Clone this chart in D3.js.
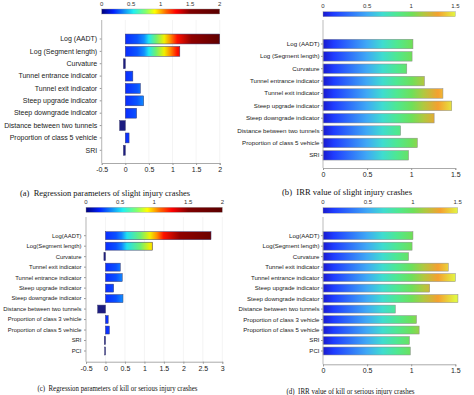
<!DOCTYPE html>
<html>
<head>
<meta charset="utf-8">
<script src="https://cdn.jsdelivr.net/npm/d3@7"></script>
<style>
  body { margin: 0; background: #fff; }
  text { font-family: "Liberation Sans", Arial, sans-serif; }
  .caption { font-family: "Liberation Serif", "Times New Roman", serif; white-space: pre; }
</style>
</head>
<body>
<svg id="chart" width="474" height="395"></svg>
<script>
// Catégories (slight injury crashes)
const catsSlight = ["Log (AADT)", "Log (Segment length)", "Curvature", "Tunnel entrance indicator",
  "Tunnel exit indicator", "Steep upgrade indicator", "Steep downgrade indicator",
  "Distance between two tunnels", "Proportion of class 5 vehicle", "SRI"];
// Catégories (kill or serious injury crashes)
const catsSevere = ["Log(AADT)", "Log(Segment length)", "Curvature", "Tunnel exit indicator",
  "Tunnel entrance indicator", "Steep upgrade indicator", "Steep downgrade indicator",
  "Distance between two tunnels", "Proportion of class 3 vehicle", "Proportion of class 5 vehicle",
  "SRI", "PCI"];

// Valeurs
const regSlight = [2.0, 1.155, -0.04, 0.16, 0.32, 0.39, 0.24, -0.12, 0.08, -0.04];
const irrSlight = [1.02, 1.01, 0.95, 1.15, 1.36, 1.46, 1.26, 0.88, 1.07, 0.97];
const regSevere = [2.71, 1.21, -0.04, 0.38, 0.43, 0.21, 0.45, -0.20, 0.07, 0.10, -0.03, -0.02];
const irrSevere = [1.02, 1.01, 0.97, 1.42, 1.50, 1.21, 1.53, 0.82, 1.06, 1.09, 0.98, 0.99];

// Graduations
const regTicksSlight = [-0.5, 0, 0.5, 1, 1.5, 2];
const regTicksSevere = [-0.5, 0, 0.5, 1, 1.5, 2, 2.5, 3];
const irrTicks = [0, 0.5, 1, 1.5];
const regBarTicks = [0, 0.5, 1, 1.5, 2];
const irrBarTicks = [0, 0.5, 1, 1.5];

const captions = [
  "(a)  Regression parameters of slight injury crashes",
  "(b)  IRR value of slight injury crashes",
  "(c)  Regression parameters of kill or serious injury crashes",
  "(d)  IRR value of kill or serious injury crashes"
];

const svg = d3.select("#chart");
const defs = svg.append("defs");

// Color ramps (jet-like for regression, blue->green->orange->yellow for IRR)
const jetBar = [[0, "#00006e"], [0.1, "#0000c8"], [0.2, "#0a2cff"], [0.3, "#0a55ff"], [0.36, "#1090ff"],
  [0.40, "#20e8f0"], [0.46, "#70f070"], [0.53, "#f0f000"], [0.58, "#ff9000"], [0.64, "#ff1000"],
  [0.76, "#900000"], [1, "#600000"]];
const jetBarSevere = [[0, "#00006e"], [0.08, "#0000c0"], [0.143, "#0a2cff"], [0.22, "#0a50ff"], [0.26, "#1080ff"],
  [0.30, "#20e0f0"], [0.40, "#70f070"], [0.47, "#f0f000"], [0.52, "#ff9000"], [0.57, "#ff1000"],
  [0.69, "#900000"], [1, "#600000"]];
const jetBar2 = [[0, "#00007a"], [0.1, "#0020ff"], [0.27, "#20f0f0"], [0.37, "#80ff70"], [0.45, "#ffff00"],
  [0.55, "#ff6000"], [0.63, "#ff0000"], [0.75, "#800000"], [1, "#5a0000"]];
const irrRamp = [[0, "#1a1acc"], [0.08, "#1f3cff"], [0.33, "#3fa8f5"], [0.45, "#3fdcd0"], [0.56, "#4fe890"],
  [0.67, "#6ee05a"], [0.76, "#b0c840"], [0.87, "#f5a030"], [1, "#e2f542"]];

function addGradient(id, stops, x1, x2) {
  const lg = defs.append("linearGradient").attr("id", id);
  if (x1 !== undefined) {
    lg.attr("gradientUnits", "userSpaceOnUse").attr("x1", x1).attr("x2", x2).attr("y1", 0).attr("y2", 0);
  }
  lg.selectAll("stop").data(stops).enter().append("stop")
    .attr("offset", d => d[0]).attr("stop-color", d => d[1]);
}

function drawPanel(p) {
  const g = svg.append("g");
  const x = d3.scaleLinear().domain(p.domain).range([p.x0, p.x1]);
  const step = (p.lastCenter - p.firstCenter) / (p.cats.length - 1);
  const y = d3.scaleBand().domain(p.cats)
    .range([p.firstCenter - step / 2, p.lastCenter + step / 2])
    .paddingInner(p.pad).paddingOuter(p.pad / 2);

  addGradient(p.id + "bar", p.barStops, p.x0, p.x1);
  addGradient(p.id + "cb", p.cbStops);

  // colorbar
  const cb = d3.scaleLinear().domain([0, p.cbMax]).range([p.x0, p.cbX1]);
  g.append("rect")
    .attr("x", p.x0).attr("y", p.cbY)
    .attr("width", p.cbX1 - p.x0).attr("height", p.cbH)
    .attr("fill", "url(#" + p.id + "cb)")
    .attr("stroke", "#999").attr("stroke-width", 0.4);
  g.selectAll(".cbl").data(p.cbTicks).enter().append("text")
    .attr("x", d => cb(d)).attr("y", p.cbY - 3.5)
    .attr("text-anchor", "middle").attr("font-size", 6).attr("fill", "#333")
    .text(d => d);

  // grid
  if (p.grid) {
    g.selectAll(".grid").data(p.ticks).enter().append("line")
      .attr("x1", d => x(d)).attr("x2", d => x(d))
      .attr("y1", p.axisTop).attr("y2", p.axisY)
      .attr("stroke", "#ececec").attr("stroke-width", 0.6);
  }

  // bars
  const data = p.cats.map((c, i) => ({ cat: c, value: p.values[i] }));
  g.selectAll(".bar").data(data).enter().append("rect")
    .attr("x", d => x(Math.min(0, d.value)))
    .attr("width", d => Math.abs(x(d.value) - x(0)))
    .attr("y", d => y(d.cat))
    .attr("height", y.bandwidth())
    .attr("fill", d => d.value < 0 ? "#1c1c80" : "url(#" + p.id + "bar)")
    .attr("stroke", p.barStroke).attr("stroke-width", 0.5);

  // axes
  const xAxis = g.append("g").attr("transform", "translate(0," + p.axisY + ")")
    .call(d3.axisBottom(x).tickValues(p.ticks).tickSize(2).tickPadding(2).tickFormat(d => String(d)));
  xAxis.select(".domain").attr("stroke", "#aaa");
  xAxis.selectAll(".tick line").attr("stroke", "#999");
  xAxis.selectAll("text").attr("font-size", 7).attr("fill", "#222")
    .attr("font-family", "'Liberation Sans', Arial, sans-serif");

  const yAxis = g.append("g").attr("transform", "translate(" + p.x0 + ",0)")
    .call(d3.axisLeft(y).tickSize(2).tickPadding(p.labelPad));
  yAxis.select(".domain").remove();
  yAxis.selectAll(".tick line").attr("stroke", "#999");
  yAxis.selectAll("text").attr("font-size", p.labelSize).attr("fill", "#222")
    .attr("font-family", "'Liberation Sans', Arial, sans-serif");

  g.append("line")
    .attr("x1", p.x0).attr("x2", p.x0)
    .attr("y1", p.axisTop).attr("y2", p.axisY)
    .attr("stroke", "#aaa").attr("stroke-width", 0.8);

  // caption
  g.append("text").attr("class", "caption")
    .attr("x", p.capX).attr("y", p.capY)
    .attr("text-anchor", "middle").attr("font-size", p.capSize).attr("fill", "#111")
    .attr("textLength", p.capW).attr("lengthAdjust", "spacingAndGlyphs")
    .text(p.caption);
}

drawPanel({ id: "a", cats: catsSlight, values: regSlight, domain: [-0.5, 2], ticks: regTicksSlight,
  x0: 101.7, x1: 219.7, cbX1: 219.7, cbMax: 2, cbTicks: regBarTicks, cbY: 9, cbH: 5,
  axisTop: 20, axisY: 163, firstCenter: 39, lastCenter: 150.3, pad: 0.2, labelSize: 7, labelPad: 2.5,
  barStops: jetBar, cbStops: jetBar2, barStroke: "#3a3a70", grid: true,
  caption: captions[0], capX: 105, capY: 196, capSize: 7.6, capW: 170 });

drawPanel({ id: "b", cats: catsSlight, values: irrSlight, domain: [0, 1.5], ticks: irrTicks,
  x0: 323, x1: 455.3, cbX1: 455.3, cbMax: 1.5, cbTicks: irrBarTicks, cbY: 11.7, cbH: 5,
  axisTop: 20, axisY: 168, firstCenter: 44, lastCenter: 155.3, pad: 0.23, labelSize: 6.2, labelPad: 1.5,
  barStops: irrRamp, cbStops: irrRamp, barStroke: "#8a8a8a", grid: false,
  caption: captions[1], capX: 347, capY: 195, capSize: 8, capW: 130 });

drawPanel({ id: "c", cats: catsSevere, values: regSevere, domain: [-0.5, 3], ticks: regTicksSevere,
  x0: 86, x1: 222.3, cbX1: 222.3, cbMax: 2, cbTicks: regBarTicks, cbY: 207.3, cbH: 5,
  axisTop: 217, axisY: 361.7, firstCenter: 235.7, lastCenter: 351, pad: 0.24, labelSize: 5.9, labelPad: 2.5,
  barStops: jetBarSevere, cbStops: jetBar2, barStroke: "#3a3a70", grid: true,
  caption: captions[2], capX: 117.5, capY: 391, capSize: 7.4, capW: 160 });

drawPanel({ id: "d", cats: catsSevere, values: irrSevere, domain: [0, 1.5], ticks: irrTicks,
  x0: 323, x1: 455.3, cbX1: 457.7, cbMax: 1.5, cbTicks: irrBarTicks, cbY: 207.7, cbH: 5.5,
  axisTop: 217, axisY: 364.3, firstCenter: 235.7, lastCenter: 351, pad: 0.24, labelSize: 6.1, labelPad: 1.5,
  barStops: irrRamp, cbStops: irrRamp, barStroke: "#8a8a8a", grid: false,
  caption: captions[3], capX: 350.5, capY: 394, capSize: 7.6, capW: 128 });
</script>
</body>
</html>
